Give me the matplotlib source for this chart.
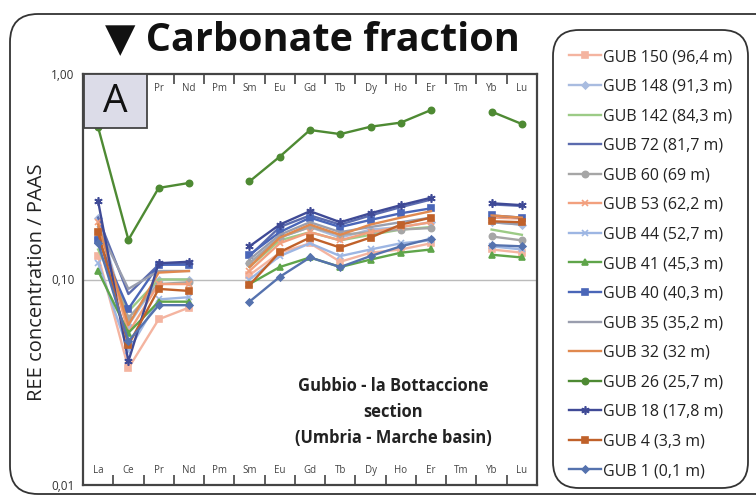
import numpy as np
import matplotlib
matplotlib.use("Agg")
import matplotlib.pyplot as plt
from matplotlib.patches import FancyBboxPatch, Rectangle
from matplotlib.transforms import blended_transform_factory

plt.rcParams['font.family'] = ['Open Sans', 'DejaVu Sans']

elements = ["La", "Ce", "Pr", "Nd", "Pm", "Sm", "Eu", "Gd", "Tb", "Dy", "Ho", "Er", "Tm", "Yb", "Lu"]
# values for La, Ce, Pr, Nd, Sm, Eu, Gd, Tb, Dy, Ho, Er, Yb, Lu (Pm and Tm not measured)
measured = ["La", "Ce", "Pr", "Nd", "Sm", "Eu", "Gd", "Tb", "Dy", "Ho", "Er", "Yb", "Lu"]

labels = ["GUB 150 (96,4 m)", "GUB 148 (91,3 m)", "GUB 142 (84,3 m)", "GUB 72 (81,7 m)",
          "GUB 60 (69 m)", "GUB 53 (62,2 m)", "GUB 44 (52,7 m)", "GUB 41 (45,3 m)",
          "GUB 40 (40,3 m)", "GUB 35 (35,2 m)", "GUB 32 (32 m)", "GUB 26 (25,7 m)",
          "GUB 18 (17,8 m)", "GUB 4 (3,3 m)", "GUB 1 (0,1 m)"]

gub150 = [0.130, 0.037, 0.064, 0.073, 0.105, 0.135, 0.150, 0.122, 0.135, 0.140, 0.150, 0.140, 0.135]
gub148 = [0.200, 0.060, 0.100, 0.100, 0.120, 0.160, 0.180, 0.160, 0.175, 0.180, 0.190, 0.190, 0.185]
gub142 = [0.140, 0.070, 0.100, 0.100, 0.115, 0.155, 0.170, 0.155, 0.165, 0.175, 0.180, 0.175, 0.165]
gub72  = [0.200, 0.085, 0.118, 0.120, 0.130, 0.180, 0.205, 0.185, 0.205, 0.225, 0.245, 0.232, 0.228]
gub60  = [0.160, 0.065, 0.095, 0.097, 0.120, 0.160, 0.180, 0.165, 0.170, 0.175, 0.178, 0.162, 0.155]
gub53  = [0.190, 0.055, 0.095, 0.095, 0.110, 0.150, 0.170, 0.155, 0.170, 0.180, 0.190, 0.200, 0.198]
gub44  = [0.120, 0.045, 0.080, 0.082, 0.100, 0.130, 0.150, 0.130, 0.140, 0.150, 0.155, 0.145, 0.140]
gub41  = [0.110, 0.055, 0.078, 0.078, 0.095, 0.115, 0.128, 0.115, 0.125, 0.135, 0.140, 0.132, 0.128]
gub40  = [0.155, 0.072, 0.118, 0.118, 0.132, 0.170, 0.200, 0.180, 0.195, 0.210, 0.222, 0.205, 0.200]
gub35  = [0.180, 0.090, 0.110, 0.110, 0.125, 0.165, 0.190, 0.170, 0.180, 0.190, 0.200, 0.190, 0.185]
gub32  = [0.185, 0.060, 0.108, 0.110, 0.115, 0.160, 0.185, 0.165, 0.185, 0.200, 0.215, 0.205, 0.200]
gub26  = [0.550, 0.156, 0.279, 0.295, 0.300, 0.396, 0.534, 0.510, 0.554, 0.580, 0.668, 0.656, 0.571]
gub18  = [0.240, 0.040, 0.120, 0.122, 0.145, 0.185, 0.215, 0.190, 0.210, 0.230, 0.250, 0.235, 0.230]
gub4   = [0.170, 0.048, 0.090, 0.088, 0.094, 0.136, 0.160, 0.143, 0.160, 0.185, 0.200, 0.192, 0.190]
gub1   = [0.150, 0.050, 0.075, 0.075, 0.078, 0.103, 0.128, 0.115, 0.130, 0.145, 0.158, 0.147, 0.145]

series = [gub150, gub148, gub142, gub72, gub60, gub53, gub44, gub41,
          gub40, gub35, gub32, gub26, gub18, gub4, gub1]

colors = ['#F4B4A0', '#A9BCE0', '#9CCB86', '#5B6BAE', '#A6A6A6', '#F2A07E', '#9DB6E3', '#5FA54A',
          '#4A66B8', '#9A9EAE', '#E0894F', '#4E8A33', '#3F4A96', '#C0612A', '#5572AE']
markers = ['s', 'D', None, None, 'o', 'x', 'x', '^',
           's', None, None, 'o', (6, 2, 0), 's', 'D']
msizes = [4.5, 3.5, 0, 0, 4.5, 5, 5, 4.5, 4.5, 0, 0, 4.5, 6, 4.5, 3.5]

W, H = 756, 496
fig = plt.figure(figsize=(W / 100, H / 100), dpi=100)

# background layer in pixel units for frames and title
bg = fig.add_axes([0, 0, 1, 1], zorder=0)
bg.set_xlim(0, W)
bg.set_ylim(H, 0)
bg.axis('off')
bg.add_patch(FancyBboxPatch((10, 14), 800, 480, boxstyle="round,pad=0,rounding_size=28",
                            fc='white', ec='#333333', lw=1.3))
bg.add_patch(FancyBboxPatch((553, 30), 195, 458, boxstyle="round,pad=0,rounding_size=26",
                            fc='white', ec='#333333', lw=1.3))
bg.text(312, 40, "▼ Carbonate fraction", ha='center', va='center', fontsize=28.5,
        fontweight='bold', color='#111111')
bg.text(37, 282, "REE concentration / PAAS", rotation=90, ha='center', va='center',
        fontsize=14.5, color='#222222')

# main REE pattern panel
x0, x1, y_top, y_bot = 83, 537, 74, 485
ax = fig.add_axes([x0 / W, 1 - y_bot / H, (x1 - x0) / W, (y_bot - y_top) / H], zorder=2)
ax.set_yscale('log')
ax.set_ylim(0.01, 1.0)
ax.set_xlim(-0.5, len(elements) - 0.5)

xpos = np.array([elements.index(e) for e in measured], dtype=int)
full_x = np.arange(len(elements))
for vals, c, m, ms, lab in zip(series, colors, markers, msizes, labels):
    y = np.full(len(elements), np.nan)
    y[xpos] = vals
    ax.plot(full_x, y, color=c, lw=1.7, marker=m, ms=ms, mec=c, mfc=c, mew=1.2, label=lab)

ax.axhline(0.1, color='#BBBBBB', lw=1.0, zorder=0)

for s in ax.spines.values():
    s.set_color('#444444')
    s.set_linewidth(1.6)

ax.set_xticks([])
ax.set_xticks(np.arange(0.5, len(elements) - 1, 1.0), minor=True)
ax.tick_params(axis='x', which='minor', direction='in', length=7, width=1.2, color='#444444',
               top=True, bottom=True, labelbottom=False)
ax.set_yticks([0.01, 0.1, 1.0])
ax.set_yticklabels(["0,01", "0,10", "1,00"])
ax.yaxis.set_minor_locator(matplotlib.ticker.NullLocator())
ax.tick_params(axis='y', which='major', length=0, pad=6, labelsize=8.5, labelcolor='#333333')

trans = blended_transform_factory(ax.transData, ax.transAxes)
for i, el in enumerate(elements):
    if i >= 2:  # the first two top labels sit under the panel tag
        ax.text(i, 0.964, el, transform=trans, ha='center', va='center', fontsize=7, color='#444444')
    ax.text(i, 0.036, el, transform=trans, ha='center', va='center', fontsize=7, color='#444444')

ax.add_patch(Rectangle((0.002, 0.869), 0.139, 0.131, transform=ax.transAxes,
                       fc='#DCDCE8', ec='#444444', lw=1.3, zorder=5))
ax.text(0.071, 0.933, "A", transform=ax.transAxes, ha='center', va='center',
        fontsize=28, color='#111111', zorder=6)

ax.text(0.683, 0.178, "Gubbio - la Bottaccione\nsection\n(Umbria - Marche basin)",
        transform=ax.transAxes, ha='center', va='center', fontsize=11.9, fontweight='bold',
        color='#222222', linespacing=1.55)

handles, labs = ax.get_legend_handles_labels()
fig.legend(handles, labs, loc='upper left', bbox_to_anchor=(569 / W, 1 - 49 / H),
           frameon=False, fontsize=11.5, handlelength=2.0, handletextpad=0.15,
           labelspacing=0.85, borderpad=0, borderaxespad=0, labelcolor='#222222')

fig.savefig("out.png", dpi=100)
